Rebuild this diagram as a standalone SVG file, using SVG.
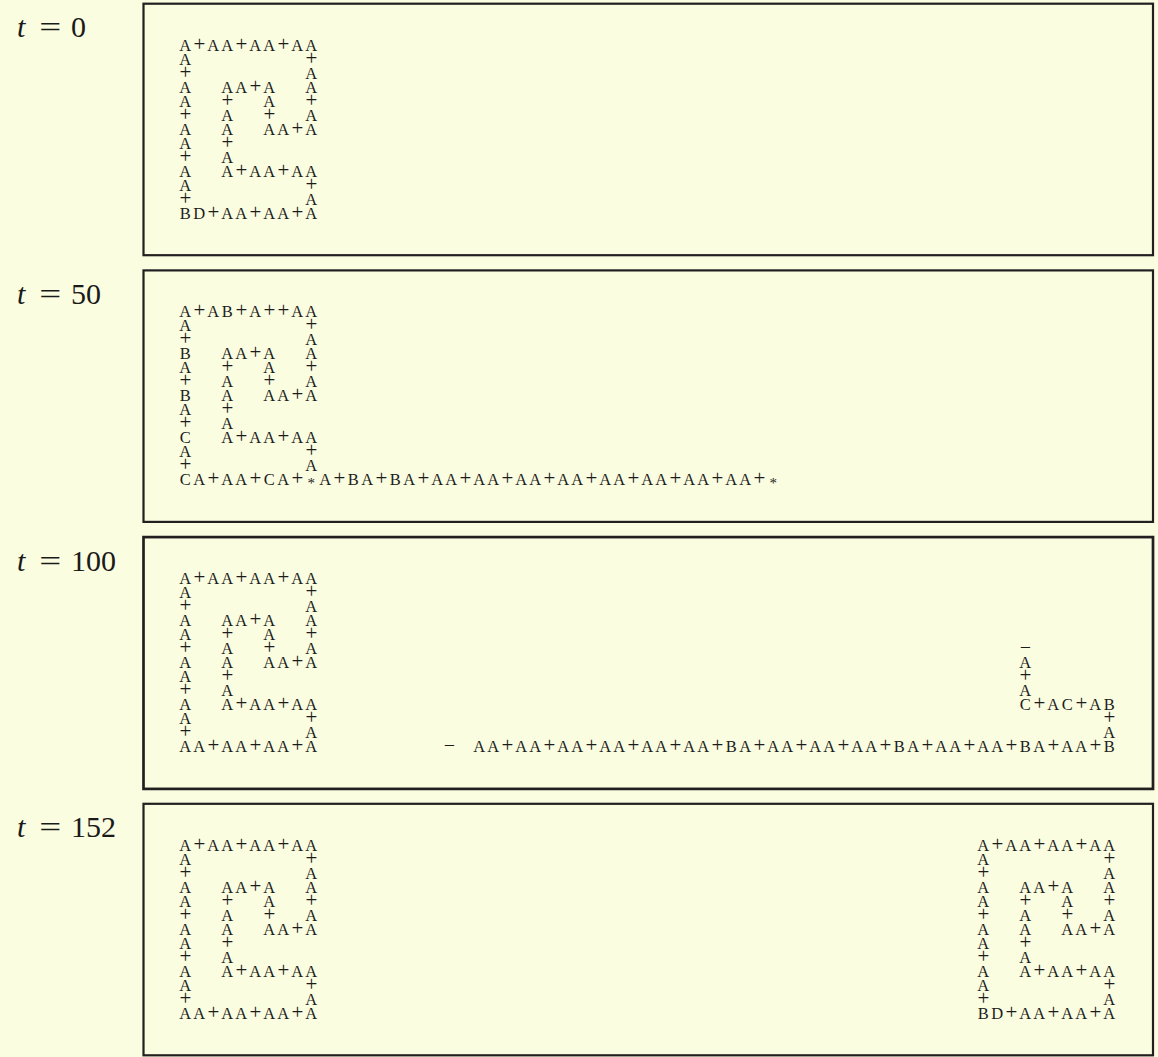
<svg xmlns="http://www.w3.org/2000/svg" width="1158" height="1057" viewBox="0 0 1158 1057">
<style>
.bg{fill:#FAFDE0}
.box{fill:#FAFDE0;stroke:#231F20;stroke-width:2.2}
.box3{stroke-width:2.7}
.g{font-family:"Liberation Serif","DejaVu Serif",serif;font-size:16.5px;fill:#1c1c1c;text-anchor:middle}
.p{font-size:21px}
.s{font-size:15px}
.m{font-size:20px}
.lbl{font-family:"Liberation Serif","DejaVu Serif",serif;font-size:30px;fill:#1a1a1a}
.it{font-style:italic}
</style>
<rect class="bg" x="0" y="0" width="1158" height="1057"/>

<g id="panel-t0">
<rect class="box" x="143.5" y="3.7" width="1009.5" height="251.5"/>
<text class="lbl"><tspan class="it" x="17" y="37.3">t</tspan></text>
<text class="lbl" x="39.3" y="37.3" textLength="22" lengthAdjust="spacingAndGlyphs">=</text>
<text class="lbl" x="71" y="37.3">0</text>
<g id="loop-t0" class="g" transform="translate(185.3,50.7)">
<text x="0 14 28 42 56 70 84 98 112 126" y="0" xml:space="preserve">A<tspan class="p">+</tspan>AA<tspan class="p">+</tspan>AA<tspan class="p">+</tspan>AA</text>
<text x="0 14 28 42 56 70 84 98 112 126" y="14" xml:space="preserve">A        <tspan class="p">+</tspan></text>
<text x="0 14 28 42 56 70 84 98 112 126" y="28" xml:space="preserve"><tspan class="p">+</tspan>        A</text>
<text x="0 14 28 42 56 70 84 98 112 126" y="42" xml:space="preserve">A  AA<tspan class="p">+</tspan>A  A</text>
<text x="0 14 28 42 56 70 84 98 112 126" y="56" xml:space="preserve">A  <tspan class="p">+</tspan>  A  <tspan class="p">+</tspan></text>
<text x="0 14 28 42 56 70 84 98 112 126" y="70" xml:space="preserve"><tspan class="p">+</tspan>  A  <tspan class="p">+</tspan>  A</text>
<text x="0 14 28 42 56 70 84 98 112 126" y="84" xml:space="preserve">A  A  AA<tspan class="p">+</tspan>A</text>
<text x="0 14 28 42" y="98" xml:space="preserve">A  <tspan class="p">+</tspan></text>
<text x="0 14 28 42" y="112" xml:space="preserve"><tspan class="p">+</tspan>  A</text>
<text x="0 14 28 42 56 70 84 98 112 126" y="126" xml:space="preserve">A  A<tspan class="p">+</tspan>AA<tspan class="p">+</tspan>AA</text>
<text x="0 14 28 42 56 70 84 98 112 126" y="140" xml:space="preserve">A        <tspan class="p">+</tspan></text>
<text x="0 14 28 42 56 70 84 98 112 126" y="154" xml:space="preserve"><tspan class="p">+</tspan>        A</text>
<text x="0 14 28 42 56 70 84 98 112 126" y="168" xml:space="preserve">BD<tspan class="p">+</tspan>AA<tspan class="p">+</tspan>AA<tspan class="p">+</tspan>A</text>
</g>
</g>

<g id="panel-t50">
<rect class="box" x="143.5" y="270.4" width="1009.5" height="251.5"/>
<text class="lbl"><tspan class="it" x="17" y="304">t</tspan></text>
<text class="lbl" x="39.3" y="304" textLength="22" lengthAdjust="spacingAndGlyphs">=</text>
<text class="lbl" x="71" y="304">50</text>
<g id="loop-t50" class="g" transform="translate(185.3,317.4)">
<text x="0 14 28 42 56 70 84 98 112 126" y="0" xml:space="preserve">A<tspan class="p">+</tspan>AB<tspan class="p">+</tspan>A<tspan class="p">+</tspan><tspan class="p">+</tspan>AA</text>
<text x="0 14 28 42 56 70 84 98 112 126" y="14" xml:space="preserve">A        <tspan class="p">+</tspan></text>
<text x="0 14 28 42 56 70 84 98 112 126" y="28" xml:space="preserve"><tspan class="p">+</tspan>        A</text>
<text x="0 14 28 42 56 70 84 98 112 126" y="42" xml:space="preserve">B  AA<tspan class="p">+</tspan>A  A</text>
<text x="0 14 28 42 56 70 84 98 112 126" y="56" xml:space="preserve">A  <tspan class="p">+</tspan>  A  <tspan class="p">+</tspan></text>
<text x="0 14 28 42 56 70 84 98 112 126" y="70" xml:space="preserve"><tspan class="p">+</tspan>  A  <tspan class="p">+</tspan>  A</text>
<text x="0 14 28 42 56 70 84 98 112 126" y="84" xml:space="preserve">B  A  AA<tspan class="p">+</tspan>A</text>
<text x="0 14 28 42" y="98" xml:space="preserve">A  <tspan class="p">+</tspan></text>
<text x="0 14 28 42" y="112" xml:space="preserve"><tspan class="p">+</tspan>  A</text>
<text x="0 14 28 42 56 70 84 98 112 126" y="126" xml:space="preserve">C  A<tspan class="p">+</tspan>AA<tspan class="p">+</tspan>AA</text>
<text x="0 14 28 42 56 70 84 98 112 126" y="140" xml:space="preserve">A        <tspan class="p">+</tspan></text>
<text x="0 14 28 42 56 70 84 98 112 126" y="154" xml:space="preserve"><tspan class="p">+</tspan>        A</text>
<text x="0 14 28 42 56 70 84 98 112 126 140 154 168 182 196 210 224 238 252 266 280 294 308 322 336 350 364 378 392 406 420 434 448 462 476 490 504 518 532 546 560 574 588" y="168" xml:space="preserve">CA<tspan class="p">+</tspan>AA<tspan class="p">+</tspan>CA<tspan class="p">+</tspan><tspan class="s" baseline-shift="-2.5">*</tspan>A<tspan class="p">+</tspan>BA<tspan class="p">+</tspan>BA<tspan class="p">+</tspan>AA<tspan class="p">+</tspan>AA<tspan class="p">+</tspan>AA<tspan class="p">+</tspan>AA<tspan class="p">+</tspan>AA<tspan class="p">+</tspan>AA<tspan class="p">+</tspan>AA<tspan class="p">+</tspan>AA<tspan class="p">+</tspan><tspan class="s" baseline-shift="-2.5">*</tspan></text>
</g>
</g>

<g id="panel-t100">
<rect class="box box3" x="143.5" y="537.1" width="1009.5" height="251.8"/>
<text class="lbl"><tspan class="it" x="17" y="570.7">t</tspan></text>
<text class="lbl" x="39.3" y="570.7" textLength="22" lengthAdjust="spacingAndGlyphs">=</text>
<text class="lbl" x="71" y="570.7">100</text>
<g id="loop-t100" class="g" transform="translate(185.3,584.1)">
<text x="0 14 28 42 56 70 84 98 112 126" y="0" xml:space="preserve">A<tspan class="p">+</tspan>AA<tspan class="p">+</tspan>AA<tspan class="p">+</tspan>AA</text>
<text x="0 14 28 42 56 70 84 98 112 126" y="14" xml:space="preserve">A        <tspan class="p">+</tspan></text>
<text x="0 14 28 42 56 70 84 98 112 126" y="28" xml:space="preserve"><tspan class="p">+</tspan>        A</text>
<text x="0 14 28 42 56 70 84 98 112 126" y="42" xml:space="preserve">A  AA<tspan class="p">+</tspan>A  A</text>
<text x="0 14 28 42 56 70 84 98 112 126" y="56" xml:space="preserve">A  <tspan class="p">+</tspan>  A  <tspan class="p">+</tspan></text>
<text x="0 14 28 42 56 70 84 98 112 126" y="70" xml:space="preserve"><tspan class="p">+</tspan>  A  <tspan class="p">+</tspan>  A</text>
<text x="0 14 28 42 56 70 84 98 112 126" y="84" xml:space="preserve">A  A  AA<tspan class="p">+</tspan>A</text>
<text x="0 14 28 42" y="98" xml:space="preserve">A  <tspan class="p">+</tspan></text>
<text x="0 14 28 42" y="112" xml:space="preserve"><tspan class="p">+</tspan>  A</text>
<text x="0 14 28 42 56 70 84 98 112 126" y="126" xml:space="preserve">A  A<tspan class="p">+</tspan>AA<tspan class="p">+</tspan>AA</text>
<text x="0 14 28 42 56 70 84 98 112 126" y="140" xml:space="preserve">A        <tspan class="p">+</tspan></text>
<text x="0 14 28 42 56 70 84 98 112 126" y="154" xml:space="preserve"><tspan class="p">+</tspan>        A</text>
<text x="0 14 28 42 56 70 84 98 112 126" y="168" xml:space="preserve">AA<tspan class="p">+</tspan>AA<tspan class="p">+</tspan>AA<tspan class="p">+</tspan>A</text>
<text class="m" x="264" y="168">−</text>
</g>
<g id="arm-t100" class="g" transform="translate(1025.3,584.1)">
<text class="m" x="0" y="70">−</text>
<text x="0" y="84">A</text>
<text class="p" x="0" y="98">+</text>
<text x="0" y="112">A</text>
<text x="0 14 28 42 56 70 84" y="126" xml:space="preserve">C<tspan class="p">+</tspan>AC<tspan class="p">+</tspan>AB</text>
<text class="p" x="84" y="140">+</text>
<text x="84" y="154">A</text>
</g>
<g id="row-t100" class="g" transform="translate(479.3,752.1)">
<text x="0 14 28 42 56 70 84 98 112 126 140 154 168 182 196 210 224 238 252 266 280 294 308 322 336 350 364 378 392 406 420 434 448 462 476 490 504 518 532 546 560 574 588 602 616 630" y="0" xml:space="preserve">AA<tspan class="p">+</tspan>AA<tspan class="p">+</tspan>AA<tspan class="p">+</tspan>AA<tspan class="p">+</tspan>AA<tspan class="p">+</tspan>AA<tspan class="p">+</tspan>BA<tspan class="p">+</tspan>AA<tspan class="p">+</tspan>AA<tspan class="p">+</tspan>AA<tspan class="p">+</tspan>BA<tspan class="p">+</tspan>AA<tspan class="p">+</tspan>AA<tspan class="p">+</tspan>BA<tspan class="p">+</tspan>AA<tspan class="p">+</tspan>B</text>
</g>
</g>

<g id="panel-t152">
<rect class="box" x="143.5" y="803.8" width="1009.5" height="251.5"/>
<text class="lbl"><tspan class="it" x="17" y="837.4">t</tspan></text>
<text class="lbl" x="39.3" y="837.4" textLength="22" lengthAdjust="spacingAndGlyphs">=</text>
<text class="lbl" x="71" y="837.4">152</text>
<g id="loop-t152-left" class="g" transform="translate(185.3,850.8)">
<text x="0 14 28 42 56 70 84 98 112 126" y="0" xml:space="preserve">A<tspan class="p">+</tspan>AA<tspan class="p">+</tspan>AA<tspan class="p">+</tspan>AA</text>
<text x="0 14 28 42 56 70 84 98 112 126" y="14" xml:space="preserve">A        <tspan class="p">+</tspan></text>
<text x="0 14 28 42 56 70 84 98 112 126" y="28" xml:space="preserve"><tspan class="p">+</tspan>        A</text>
<text x="0 14 28 42 56 70 84 98 112 126" y="42" xml:space="preserve">A  AA<tspan class="p">+</tspan>A  A</text>
<text x="0 14 28 42 56 70 84 98 112 126" y="56" xml:space="preserve">A  <tspan class="p">+</tspan>  A  <tspan class="p">+</tspan></text>
<text x="0 14 28 42 56 70 84 98 112 126" y="70" xml:space="preserve"><tspan class="p">+</tspan>  A  <tspan class="p">+</tspan>  A</text>
<text x="0 14 28 42 56 70 84 98 112 126" y="84" xml:space="preserve">A  A  AA<tspan class="p">+</tspan>A</text>
<text x="0 14 28 42" y="98" xml:space="preserve">A  <tspan class="p">+</tspan></text>
<text x="0 14 28 42" y="112" xml:space="preserve"><tspan class="p">+</tspan>  A</text>
<text x="0 14 28 42 56 70 84 98 112 126" y="126" xml:space="preserve">A  A<tspan class="p">+</tspan>AA<tspan class="p">+</tspan>AA</text>
<text x="0 14 28 42 56 70 84 98 112 126" y="140" xml:space="preserve">A        <tspan class="p">+</tspan></text>
<text x="0 14 28 42 56 70 84 98 112 126" y="154" xml:space="preserve"><tspan class="p">+</tspan>        A</text>
<text x="0 14 28 42 56 70 84 98 112 126" y="168" xml:space="preserve">AA<tspan class="p">+</tspan>AA<tspan class="p">+</tspan>AA<tspan class="p">+</tspan>A</text>
</g>
<g id="loop-t152-right" class="g" transform="translate(983.3,850.8)">
<text x="0 14 28 42 56 70 84 98 112 126" y="0" xml:space="preserve">A<tspan class="p">+</tspan>AA<tspan class="p">+</tspan>AA<tspan class="p">+</tspan>AA</text>
<text x="0 14 28 42 56 70 84 98 112 126" y="14" xml:space="preserve">A        <tspan class="p">+</tspan></text>
<text x="0 14 28 42 56 70 84 98 112 126" y="28" xml:space="preserve"><tspan class="p">+</tspan>        A</text>
<text x="0 14 28 42 56 70 84 98 112 126" y="42" xml:space="preserve">A  AA<tspan class="p">+</tspan>A  A</text>
<text x="0 14 28 42 56 70 84 98 112 126" y="56" xml:space="preserve">A  <tspan class="p">+</tspan>  A  <tspan class="p">+</tspan></text>
<text x="0 14 28 42 56 70 84 98 112 126" y="70" xml:space="preserve"><tspan class="p">+</tspan>  A  <tspan class="p">+</tspan>  A</text>
<text x="0 14 28 42 56 70 84 98 112 126" y="84" xml:space="preserve">A  A  AA<tspan class="p">+</tspan>A</text>
<text x="0 14 28 42" y="98" xml:space="preserve">A  <tspan class="p">+</tspan></text>
<text x="0 14 28 42" y="112" xml:space="preserve"><tspan class="p">+</tspan>  A</text>
<text x="0 14 28 42 56 70 84 98 112 126" y="126" xml:space="preserve">A  A<tspan class="p">+</tspan>AA<tspan class="p">+</tspan>AA</text>
<text x="0 14 28 42 56 70 84 98 112 126" y="140" xml:space="preserve">A        <tspan class="p">+</tspan></text>
<text x="0 14 28 42 56 70 84 98 112 126" y="154" xml:space="preserve"><tspan class="p">+</tspan>        A</text>
<text x="0 14 28 42 56 70 84 98 112 126" y="168" xml:space="preserve">BD<tspan class="p">+</tspan>AA<tspan class="p">+</tspan>AA<tspan class="p">+</tspan>A</text>
</g>
</g>
</svg>
